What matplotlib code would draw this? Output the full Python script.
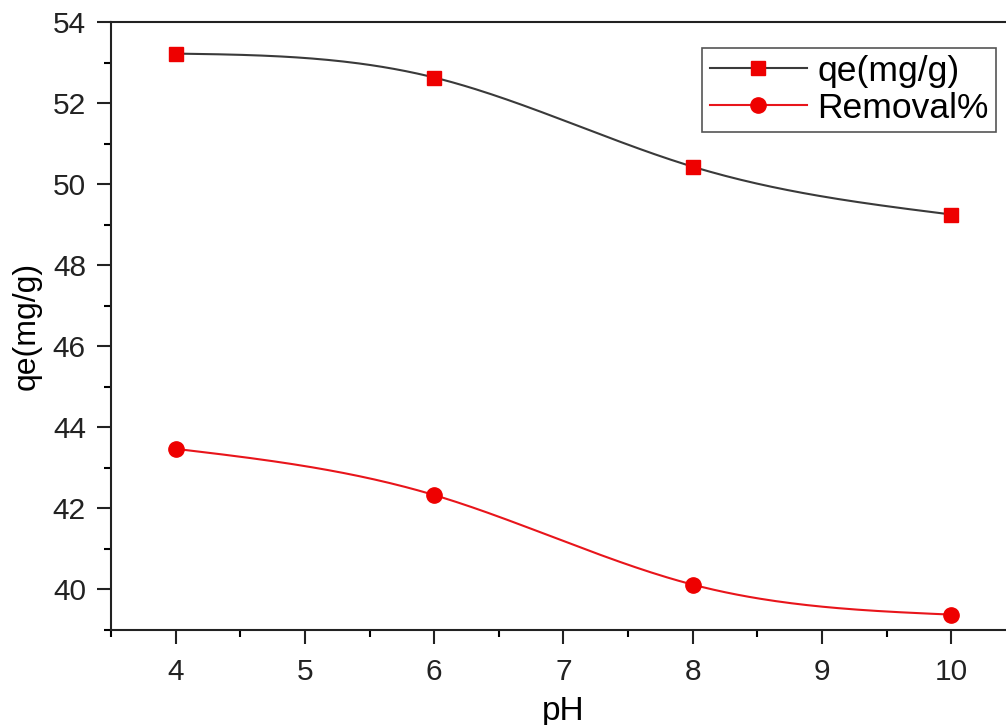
import numpy as np
import matplotlib.pyplot as plt
from matplotlib.ticker import MultipleLocator

ph = [4, 6, 8, 10]
qe = [53.22, 52.63, 50.43, 49.25]
removal = [43.47, 42.33, 40.12, 39.38]


def natural_spline(x, y, n=200):
	# natural cubic spline through the points, used only to draw the smooth connecting line
	x = np.asarray(x, float)
	y = np.asarray(y, float)
	k = len(x)
	h = np.diff(x)
	A = np.zeros((k, k))
	b = np.zeros(k)
	A[0, 0] = 1
	A[-1, -1] = 1
	for i in range(1, k - 1):
		A[i, i - 1] = h[i - 1]
		A[i, i] = 2 * (h[i - 1] + h[i])
		A[i, i + 1] = h[i]
		b[i] = 6 * ((y[i + 1] - y[i]) / h[i] - (y[i] - y[i - 1]) / h[i - 1])
	m = np.linalg.solve(A, b)
	xs = np.linspace(x[0], x[-1], n)
	idx = np.clip(np.searchsorted(x, xs) - 1, 0, k - 2)
	x0, x1 = x[idx], x[idx + 1]
	hh = x1 - x0
	t0 = x1 - xs
	t1 = xs - x0
	ys = (m[idx] * t0 ** 3 + m[idx + 1] * t1 ** 3) / (6 * hh) \
		+ (y[idx] / hh - m[idx] * hh / 6) * t0 \
		+ (y[idx + 1] / hh - m[idx + 1] * hh / 6) * t1
	return xs, ys


plt.rcParams['font.family'] = ['Liberation Sans', 'DejaVu Sans']

fig = plt.figure(figsize=(10.06, 7.25), dpi=100)
ax = fig.add_axes([0.1103, 0.131, 0.8996, 0.8387])

xs, ys = natural_spline(ph, qe)
ax.plot(xs, ys, color='#3a3a3a', lw=1.5)
xs, ys = natural_spline(ph, removal)
ax.plot(xs, ys, color='#e8151b', lw=1.5)
ax.plot(ph, qe, ls='none', marker='s', ms=10, color='#ee0000')
ax.plot(ph, removal, ls='none', marker='o', ms=11, color='#ee0000')

# legend proxies (line + marker)
h1, = ax.plot([], [], color='#3a3a3a', lw=1.5, marker='s', ms=10, mfc='#ee0000', mec='#ee0000')
h2, = ax.plot([], [], color='#e8151b', lw=1.5, marker='o', ms=11, mfc='#ee0000', mec='#ee0000')
leg = ax.legend([h1, h2], ['qe(mg/g)', 'Removal%'], loc='upper right',
	bbox_to_anchor=(0.978, 0.958), fontsize=25.5, handlelength=2.75, handletextpad=0.3,
	borderpad=0.2, labelspacing=0.12, borderaxespad=0, fancybox=False,
	edgecolor='#555555', framealpha=1)
leg.get_frame().set_linewidth(1.2)

ax.set_xlim(3.5, 10.5)
ax.set_ylim(39.0, 54)
ax.xaxis.set_major_locator(MultipleLocator(1))
ax.xaxis.set_minor_locator(MultipleLocator(0.5))
ax.yaxis.set_major_locator(MultipleLocator(2))
ax.yaxis.set_minor_locator(MultipleLocator(1))
ax.tick_params(which='major', direction='out', length=10, width=1.5, labelsize=21.5, colors='#222222')
ax.tick_params(which='minor', direction='out', length=5, width=1.5)
ax.tick_params(axis='x', pad=10)
ax.tick_params(axis='y', pad=8)
for s in ['left', 'bottom', 'top']:
	ax.spines[s].set_linewidth(1.5)
	ax.spines[s].set_color('#222222')
ax.spines['right'].set_visible(False)

ax.set_xlabel('pH', fontsize=24, labelpad=7)
ax.set_ylabel('qe(mg/g)', fontsize=23, labelpad=8)

fig.savefig('out.png', dpi=100)
